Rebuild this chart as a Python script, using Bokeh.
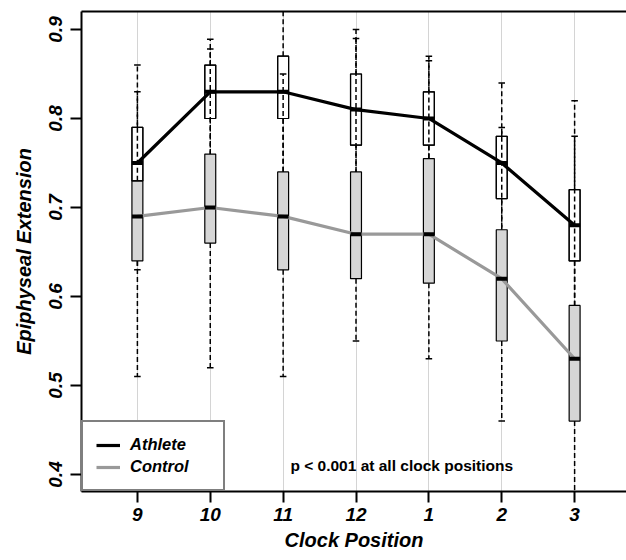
from bokeh.plotting import figure
from bokeh.models import (FixedTicker, LinearAxis, Legend, LegendItem, Label,
                          Range1d, ColumnDataSource)
from bokeh.transform import dodge
from bokeh.embed import file_html
from bokeh.resources import INLINE

# ---------------- data ----------------
clock_labels = ["9", "10", "11", "12", "1", "2", "3"]
positions = [1, 2, 3, 4, 5, 6, 7]

athlete_q1 = [0.73, 0.80, 0.80, 0.77, 0.77, 0.71, 0.64]
athlete_med = [0.75, 0.83, 0.83, 0.81, 0.80, 0.75, 0.68]
athlete_q3 = [0.79, 0.86, 0.87, 0.85, 0.83, 0.78, 0.72]
athlete_lo = [0.63, 0.72, 0.70, 0.70, 0.72, 0.66, 0.57]
athlete_hi = [0.86, 0.889, 0.93, 0.90, 0.87, 0.84, 0.82]

control_q1 = [0.64, 0.66, 0.63, 0.62, 0.615, 0.55, 0.46]
control_med = [0.69, 0.70, 0.69, 0.67, 0.67, 0.62, 0.53]
control_q3 = [0.73, 0.76, 0.74, 0.74, 0.755, 0.675, 0.59]
control_lo = [0.51, 0.52, 0.51, 0.55, 0.53, 0.46, 0.37]
control_hi = [0.83, 0.878, 0.85, 0.89, 0.865, 0.79, 0.78]

y_ticks = [0.4, 0.5, 0.6, 0.7, 0.8, 0.9]
y_tick_labels = ["0.4", "0.5", "0.6", "0.7", "0.8", "0.9"]
note_text = "p < 0.001 at all clock positions"
x_title = "Clock Position"
y_title = "Epiphyseal Extension"

FONT = "Liberation Sans"
BOX_W = 0.15
CAP_W = 0.09

p = figure(width=626, height=560, output_backend="svg", toolbar_location=None,
           x_range=Range1d(0.233, 7.712), y_range=Range1d(0.3809, 0.9202),
           min_border_left=81, min_border_right=0, min_border_top=11,
           min_border_bottom=69, outline_line_color=None,
           background_fill_color="white", border_fill_color="white")

# axes
p.xaxis.ticker = FixedTicker(ticks=positions)
p.xaxis.major_label_overrides = {pos: lab for pos, lab in zip(positions, clock_labels)}
p.yaxis.ticker = FixedTicker(ticks=y_ticks)
p.yaxis.major_label_overrides = {t: l for t, l in zip(y_ticks, y_tick_labels)}
p.yaxis.major_label_orientation = "vertical"
for ax in (p.xaxis[0], p.yaxis[0]):
    ax.axis_line_color = "black"
    ax.axis_line_width = 2
    ax.major_tick_line_color = "black"
    ax.major_tick_line_width = 2
    ax.major_tick_out = 11
    ax.major_tick_in = 0
    ax.minor_tick_line_color = None
    ax.major_label_text_font = FONT
    ax.major_label_text_font_style = "bold italic"
    ax.major_label_text_font_size = "19px"
    ax.major_label_text_color = "black"
    ax.axis_label_text_font = FONT
    ax.axis_label_text_font_style = "bold italic"
    ax.axis_label_text_font_size = "20px"
    ax.axis_label_text_color = "black"
p.xaxis.axis_label = x_title
p.yaxis.axis_label = y_title
p.xaxis.major_label_standoff = 5
p.xaxis.axis_label_standoff = 5
p.yaxis.major_label_standoff = 8
p.yaxis.axis_label_standoff = 12

top_axis = LinearAxis(ticker=FixedTicker(ticks=[]), axis_line_width=2,
                      axis_line_color="black", major_label_text_font_size="0px",
                      major_tick_line_color=None, minor_tick_line_color=None)
p.add_layout(top_axis, "above")

# grid
p.ygrid.grid_line_color = None
p.xgrid.ticker = FixedTicker(ticks=positions)
p.xgrid.grid_line_color = "#d4d4d4"
p.xgrid.grid_line_width = 1

src = ColumnDataSource(dict(
    x=positions,
    a_q1=athlete_q1, a_med=athlete_med, a_q3=athlete_q3, a_lo=athlete_lo, a_hi=athlete_hi,
    c_q1=control_q1, c_med=control_med, c_q3=control_q3, c_lo=control_lo, c_hi=control_hi,
))

def hseg(ycol, half, width):
    p.segment(x0=dodge("x", -half, range=p.x_range), y0=ycol,
              x1=dodge("x", half, range=p.x_range), y1=ycol, source=src,
              line_color="black", line_width=width)

def whiskers(q1, q3, lo, hi):
    p.segment(x0="x", y0=q3, x1="x", y1=hi, source=src, line_color="black",
              line_width=1.5, line_dash="5 3")
    p.segment(x0="x", y0=q1, x1="x", y1=lo, source=src, line_color="black",
              line_width=1.5, line_dash="5 3")
    hseg(hi, CAP_W / 2, 1.5)
    hseg(lo, CAP_W / 2, 1.5)

# athlete boxes
whiskers("a_q1", "a_q3", "a_lo", "a_hi")
p.vbar(x="x", bottom="a_q1", top="a_q3", width=BOX_W, source=src,
       fill_color="white", line_color="black", line_width=1.2)
# control boxes
whiskers("c_q1", "c_q3", "c_lo", "c_hi")
p.vbar(x="x", bottom="c_q1", top="c_q3", width=BOX_W, source=src,
       fill_color="#d6d6d6", line_color="black", line_width=1.2)
# redraw athlete box outlines on top
p.vbar(x="x", bottom="a_q1", top="a_q3", width=BOX_W, source=src,
       fill_color=None, line_color="black", line_width=1.2)

# median-connecting lines
control_line = p.line(x="x", y="c_med", source=src, line_color="#999999", line_width=3.2)
athlete_line = p.line(x="x", y="a_med", source=src, line_color="black", line_width=3.2)

# medians
hseg("a_med", BOX_W / 2, 4)
hseg("c_med", BOX_W / 2, 4)

legend = Legend(items=[LegendItem(label="Athlete", renderers=[athlete_line]),
                       LegendItem(label="Control", renderers=[control_line])],
                location=(0, 0), margin=0, padding=13, spacing=3,
                glyph_width=24, glyph_height=18, label_height=18,
                label_standoff=10, label_width=80,
                label_text_font=FONT, label_text_font_style="bold italic",
                label_text_font_size="16.5px", label_text_color="black",
                border_line_color="black", border_line_width=2,
                background_fill_color="white", background_fill_alpha=1)
p.add_layout(legend, "center")

p.add_layout(Label(x=3.1, y=0.41, text=note_text, text_font=FONT,
                   text_font_style="bold", text_font_size="15.5px",
                   text_baseline="middle", text_color="black"))

open("out.html", "w").write(file_html(p, INLINE))
